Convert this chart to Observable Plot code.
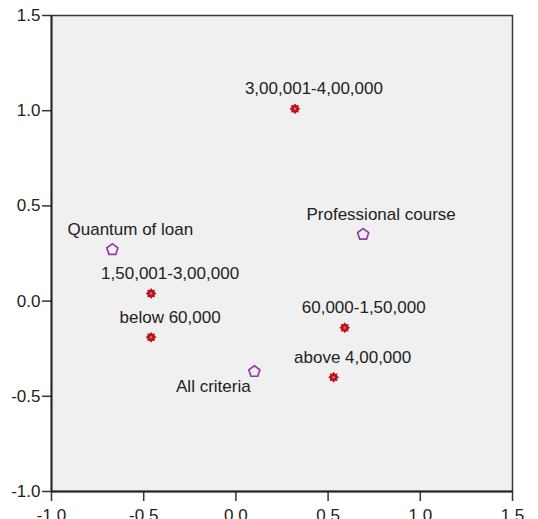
<!DOCTYPE html>
<html>
<head>
<meta charset="utf-8">
<script src="https://cdn.jsdelivr.net/npm/d3@7"></script>
<script src="https://cdn.jsdelivr.net/npm/@observablehq/plot@0.6"></script>
<style>
  html, body { margin: 0; padding: 0; background: #fff; }
  #chart svg { display: block; }
</style>
</head>
<body>
<div id="chart"></div>
<script>
// Income categories (star markers)
const incomeLabels = ["3,00,001-4,00,000", "1,50,001-3,00,000", "below 60,000", "60,000-1,50,000", "above 4,00,000"];
const incomeDim1 = [0.32, -0.46, -0.46, 0.59, 0.53];
const incomeDim2 = [1.01, 0.04, -0.19, -0.14, -0.40];

// Criteria categories (pentagon markers)
const criteriaLabels = ["Quantum of loan", "Professional course", "All criteria"];
const criteriaDim1 = [-0.67, 0.69, 0.10];
const criteriaDim2 = [0.27, 0.35, -0.37];

// Axis ticks
const tickValues = [-1.0, -0.5, 0.0, 0.5, 1.0, 1.5];

const income = incomeLabels.map((label, i) => ({label, x: incomeDim1[i], y: incomeDim2[i]}));
const criteria = criteriaLabels.map((label, i) => ({label, x: criteriaDim1[i], y: criteriaDim2[i]}));

const starburst = {
  draw(context, size) {
    const R = Math.sqrt(size / Math.PI);
    const r = R * 0.7;
    const n = 8;
    for (let i = 0; i < 2 * n; i++) {
      const a = (i * Math.PI) / n - Math.PI / 2;
      const rad = i % 2 === 0 ? R : r;
      const px = rad * Math.cos(a), py = rad * Math.sin(a);
      if (i === 0) context.moveTo(px, py); else context.lineTo(px, py);
    }
    context.closePath();
  }
};
const pentagon = {
  draw(context, size) {
    const R = Math.sqrt(size / Math.PI);
    for (let i = 0; i < 5; i++) {
      const a = (i * 2 * Math.PI) / 5 - Math.PI / 2;
      const px = R * Math.cos(a), py = R * Math.sin(a);
      if (i === 0) context.moveTo(px, py); else context.lineTo(px, py);
    }
    context.closePath();
  }
};

const fmt = d => d.toFixed(1);
const font = "'Liberation Sans', Arial, sans-serif";

const chart = Plot.plot({
  width: 538,
  height: 519,
  marginLeft: 51,
  marginRight: 26,
  marginTop: 15,
  marginBottom: 28,
  style: {fontFamily: font, fontSize: "17px", color: "#222", background: "#fff", overflow: "visible"},
  x: {domain: [-1, 1.5]},
  y: {domain: [-1, 1.5]},
  marks: [
    Plot.frame({fill: "#f0f0f0", stroke: "none"}),
    Plot.axisX({ticks: tickValues, tickFormat: fmt, tickSize: 10, tickPadding: 7, label: null, stroke: "#333", strokeWidth: 1.5, fontSize: 17}),
    Plot.axisY({ticks: tickValues, tickFormat: fmt, tickSize: 9, tickPadding: 2, label: null, stroke: "#333", strokeWidth: 1.5, fontSize: 17}),
    Plot.frame({stroke: "#3a3a3a", strokeWidth: 1.5}),
    Plot.ruleX([-1], {stroke: "#222", strokeWidth: 1.8}),
    Plot.ruleY([-1], {stroke: "#222", strokeWidth: 1.8}),
    Plot.dot(income, {x: "x", y: "y", symbol: starburst, r: 5.4, fill: "#b8141c", stroke: "none"}),
    Plot.dot(income, {x: "x", y: "y", r: 1.2, fill: "#e07070", stroke: "none"}),
    Plot.dot(criteria, {x: "x", y: "y", symbol: pentagon, r: 5.8, fill: "none", stroke: "#9a38ac", strokeWidth: 1.7}),
    Plot.text(income, {x: "x", y: "y", text: "label", dx: 19, dy: -20, fill: "#222", fontSize: 17}),
    Plot.text(criteria.filter(d => d.label !== "All criteria"), {x: "x", y: "y", text: "label", dx: 18, dy: -20, fill: "#222", fontSize: 17}),
    Plot.text(criteria.filter(d => d.label === "All criteria"), {x: "x", y: "y", text: "label", dx: -41, dy: 15, fill: "#222", fontSize: 17})
  ]
});
document.getElementById("chart").appendChild(chart);
</script>
</body>
</html>
